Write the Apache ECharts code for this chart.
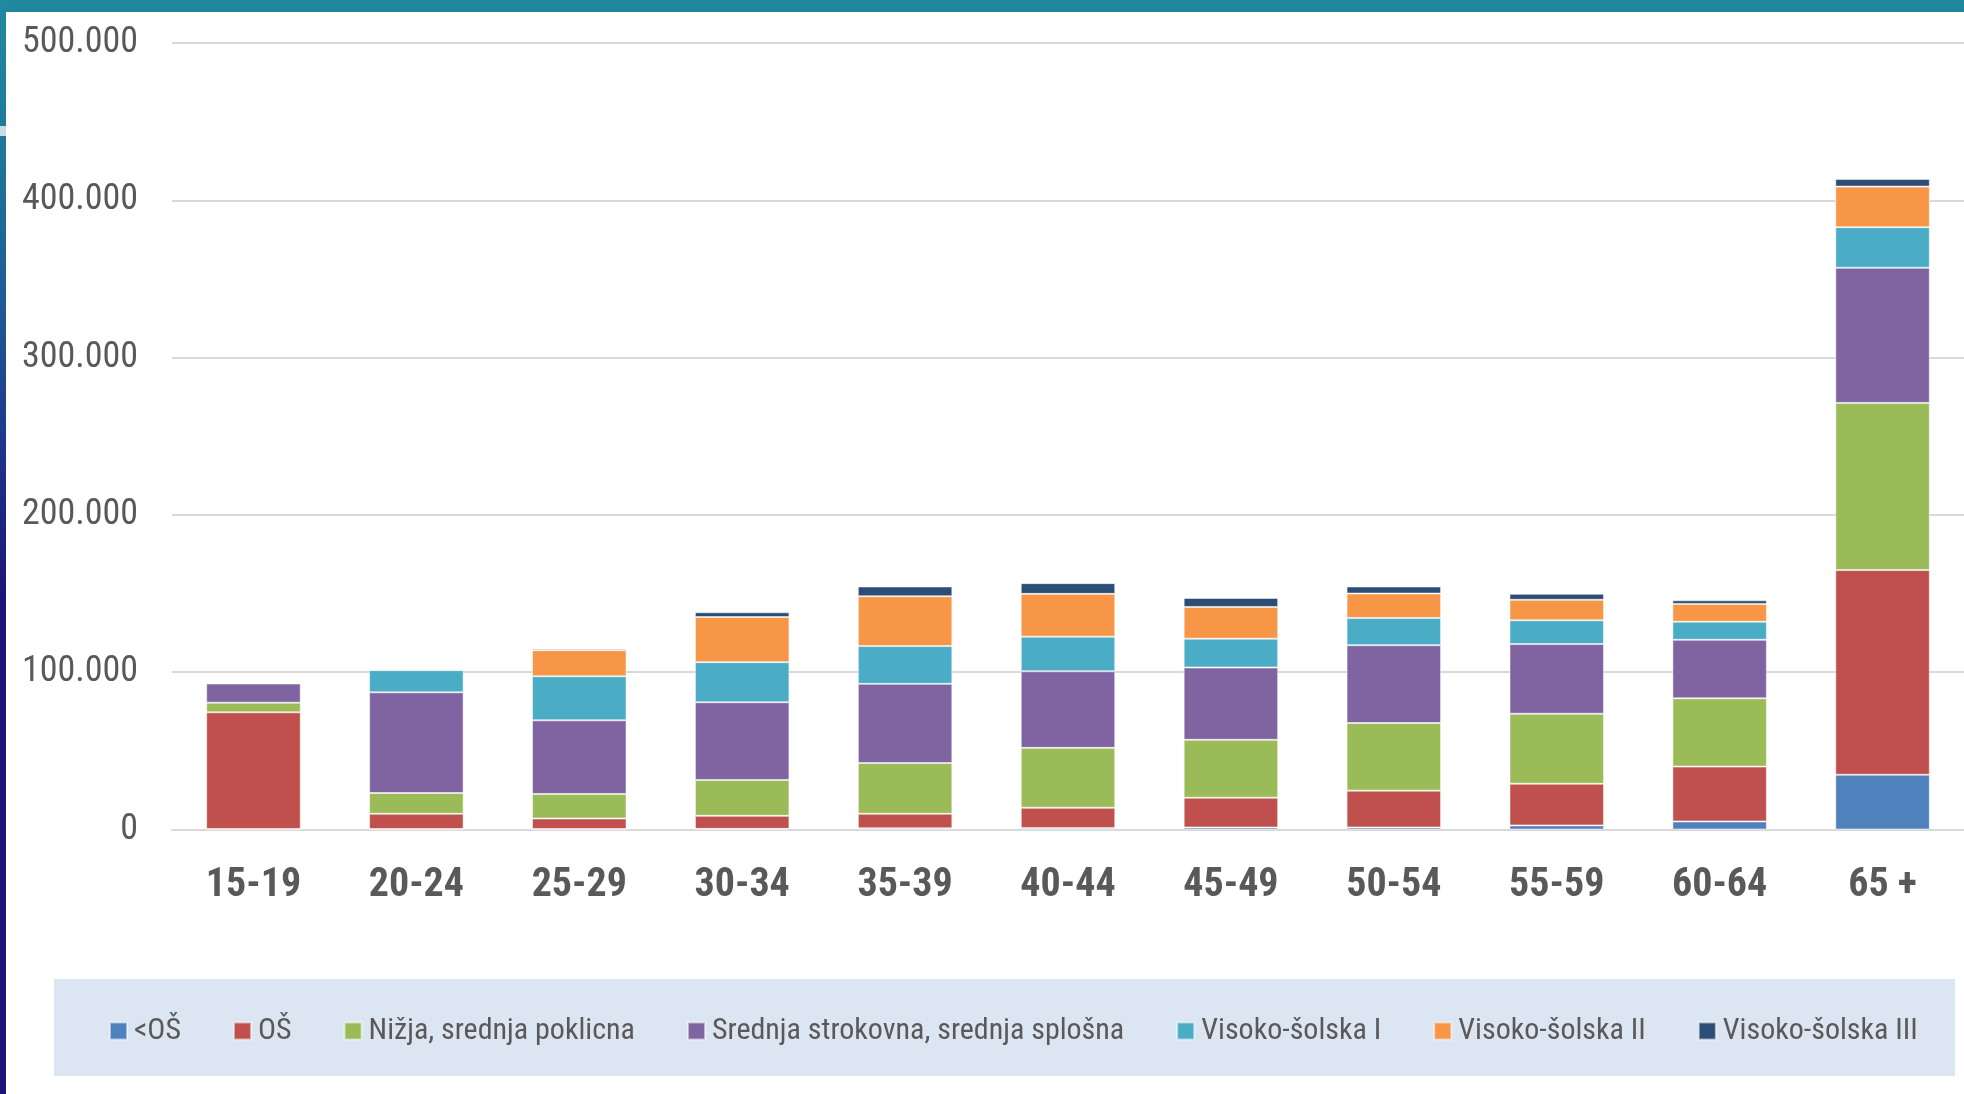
<!DOCTYPE html>
<html>
<head>
<meta charset="utf-8">
<style>
html,body{margin:0;padding:0;background:#fff;}
#c{width:1964px;height:1094px;}
</style>
<script src="https://cdn.jsdelivr.net/npm/echarts@6/dist/echarts.min.js"></script>
</head>
<body>
<div id="c"></div>
<script>
const categories = ['15-19','20-24','25-29','30-34','35-39','40-44','45-49','50-54','55-59','60-64','65 +'];
const seriesNames = ['<OŠ','OŠ','Nižja, srednja poklicna','Srednja strokovna, srednja splošna','Visoko-šolska I','Visoko-šolska II','Visoko-šolska III'];
const podOS    = [300, 300, 300, 400, 800, 900, 1300, 1300, 2600, 5100, 34800];
const os       = [74200, 9700, 6700, 8300, 9200, 12900, 18900, 23400, 26500, 34900, 130100];
const nizja    = [6100, 13200, 15600, 22800, 32300, 38100, 36800, 43000, 44500, 43400, 106300];
const srednja  = [12200, 64000, 46800, 49400, 50300, 48700, 46000, 49500, 44300, 37200, 85900];
const visokoI  = [0, 14100, 28000, 25500, 24000, 22000, 18300, 17300, 15100, 11500, 25800];
const visokoII = [0, 800, 16600, 28700, 31700, 27200, 20200, 15500, 13000, 11300, 25800];
const visokoIII= [0, 100, 900, 3000, 6200, 6800, 5700, 4500, 3800, 2300, 4900];
const yTicks = [0, 100000, 200000, 300000, 400000, 500000];

const values = [podOS, os, nizja, srednja, visokoI, visokoII, visokoIII];
const colors = ['#4f81bd','#c0504d','#9bbb59','#8064a2','#4bacc6','#f79646','#2c4d75'];
const FONT = "'Roboto Condensed','Liberation Sans Narrow','Arial Narrow',sans-serif";

const chart = echarts.init(document.getElementById('c'), null, {renderer:'canvas'});
chart.setOption({
  backgroundColor:'#ffffff',
  animation:false,
  color: colors,
  graphic:[
    {type:'rect', left:54, top:979, shape:{width:1901, height:97}, style:{fill:'#dce6f2'}, z:-10},
    {type:'rect', left:0, top:0, shape:{width:1964, height:12}, style:{fill:'#1f889c'}, z:10},
    {type:'rect', left:0, top:0, shape:{width:6, height:1094}, style:{fill:new echarts.graphic.LinearGradient(0,0,0,1,[
      {offset:0,color:'#1f8a9e'},{offset:0.12,color:'#1f7a9b'},{offset:0.28,color:'#1f5a96'},{offset:0.45,color:'#1e2a86'},{offset:0.55,color:'#1c1478'},{offset:1,color:'#1c1478'}])}, z:10},
    {type:'rect', left:0, top:126, shape:{width:6, height:10}, style:{fill:'#c9dbe8'}, z:11}
  ],
  grid:{left:172, right:0, top:43, bottom:264.5, containLabel:false},
  legend:{
    data: seriesNames,
    left:104, top:1011, width:1850,
    icon:'rect', itemWidth:17, itemHeight:17, itemGap:52,
    textStyle:{fontFamily:FONT, fontSize:30, color:'#595959', padding:[0,0,0,2]}
  },
  xAxis:{
    type:'category', data:categories,
    axisLine:{lineStyle:{color:'#d9d9d9', width:2}},
    axisTick:{show:false},
    axisLabel:{fontFamily:FONT, fontWeight:'bold', fontSize:40, color:'#595959', margin:36}
  },
  yAxis:{
    type:'value', min:yTicks[0], max:yTicks[yTicks.length-1], interval:100000,
    axisLine:{show:false}, axisTick:{show:false},
    splitLine:{lineStyle:{color:'#d9d9d9', width:2}},
    axisLabel:{fontFamily:FONT, fontSize:36, color:'#595959', margin:34, padding:[10,0,0,0],
      formatter:v=>v===0?'0':String(v).replace(/\B(?=(\d{3})+(?!\d))/g,'.')}
  },
  series: seriesNames.map((n,i)=>({
    name:n, type:'bar', stack:'total', barWidth:'58%', data:values[i],
    itemStyle:{color:colors[i], borderColor:'rgba(255,255,255,0.5)', borderWidth:1}
  }))
});
</script>
</body>
</html>
